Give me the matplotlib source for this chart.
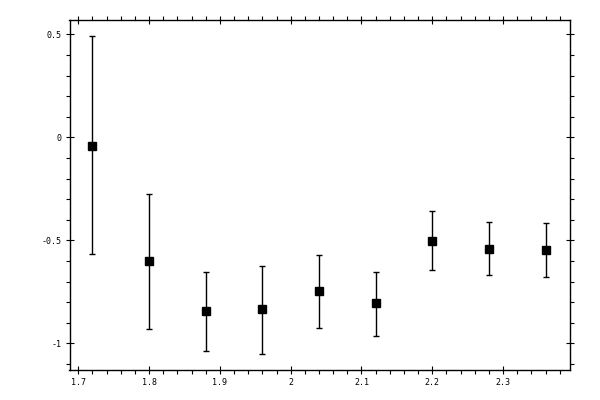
import matplotlib
matplotlib.use("Agg")
import matplotlib.pyplot as plt
from matplotlib.ticker import MultipleLocator, FormatStrFormatter, FuncFormatter

# values
x = [1.72, 1.80, 1.88, 1.96, 2.04, 2.12, 2.20, 2.28, 2.36]
y = [-0.040, -0.601, -0.845, -0.835, -0.748, -0.806, -0.501, -0.540, -0.549]
y_hi = [0.494, -0.273, -0.651, -0.622, -0.569, -0.651, -0.355, -0.409, -0.414]
y_lo = [-0.567, -0.932, -1.037, -1.049, -0.927, -0.966, -0.646, -0.670, -0.680]

err_lo = [a - b for a, b in zip(y, y_lo)]
err_hi = [b - a for a, b in zip(y, y_hi)]

fig = plt.figure(figsize=(6, 4), dpi=100)
ax = fig.add_axes([69.5 / 600, 1 - 370 / 400, (570 - 69.5) / 600, (370 - 19.5) / 400])

ax.errorbar(x, y, yerr=[err_lo, err_hi], fmt='s', color='black',
            markersize=5.5, elinewidth=1, capsize=2.5, capthick=1)

ax.set_xlim(1.6876, 2.3945)
ax.set_ylim(-1.129, 0.572)

ax.xaxis.set_major_locator(MultipleLocator(0.1))
ax.xaxis.set_minor_locator(MultipleLocator(0.02))
ax.yaxis.set_major_locator(MultipleLocator(0.5))
ax.yaxis.set_minor_locator(MultipleLocator(0.1))

def fmt(v, pos):
    s = ('%.1f' % v).rstrip('0').rstrip('.')
    return '0' if s in ('-0', '') else s

ax.xaxis.set_major_formatter(FuncFormatter(fmt))
ax.yaxis.set_major_formatter(FuncFormatter(fmt))

for sp in ax.spines.values():
    sp.set_linewidth(1)

ax.tick_params(which='major', direction='inout', length=6, width=0.8,
               top=True, right=True, labelsize=6, pad=3)
ax.tick_params(which='minor', direction='out', length=2.6, width=0.8,
               top=True, right=True)
for lab in ax.get_xticklabels() + ax.get_yticklabels():
    lab.set_family('DejaVu Sans Mono')

fig.savefig('out.png', dpi=100)
